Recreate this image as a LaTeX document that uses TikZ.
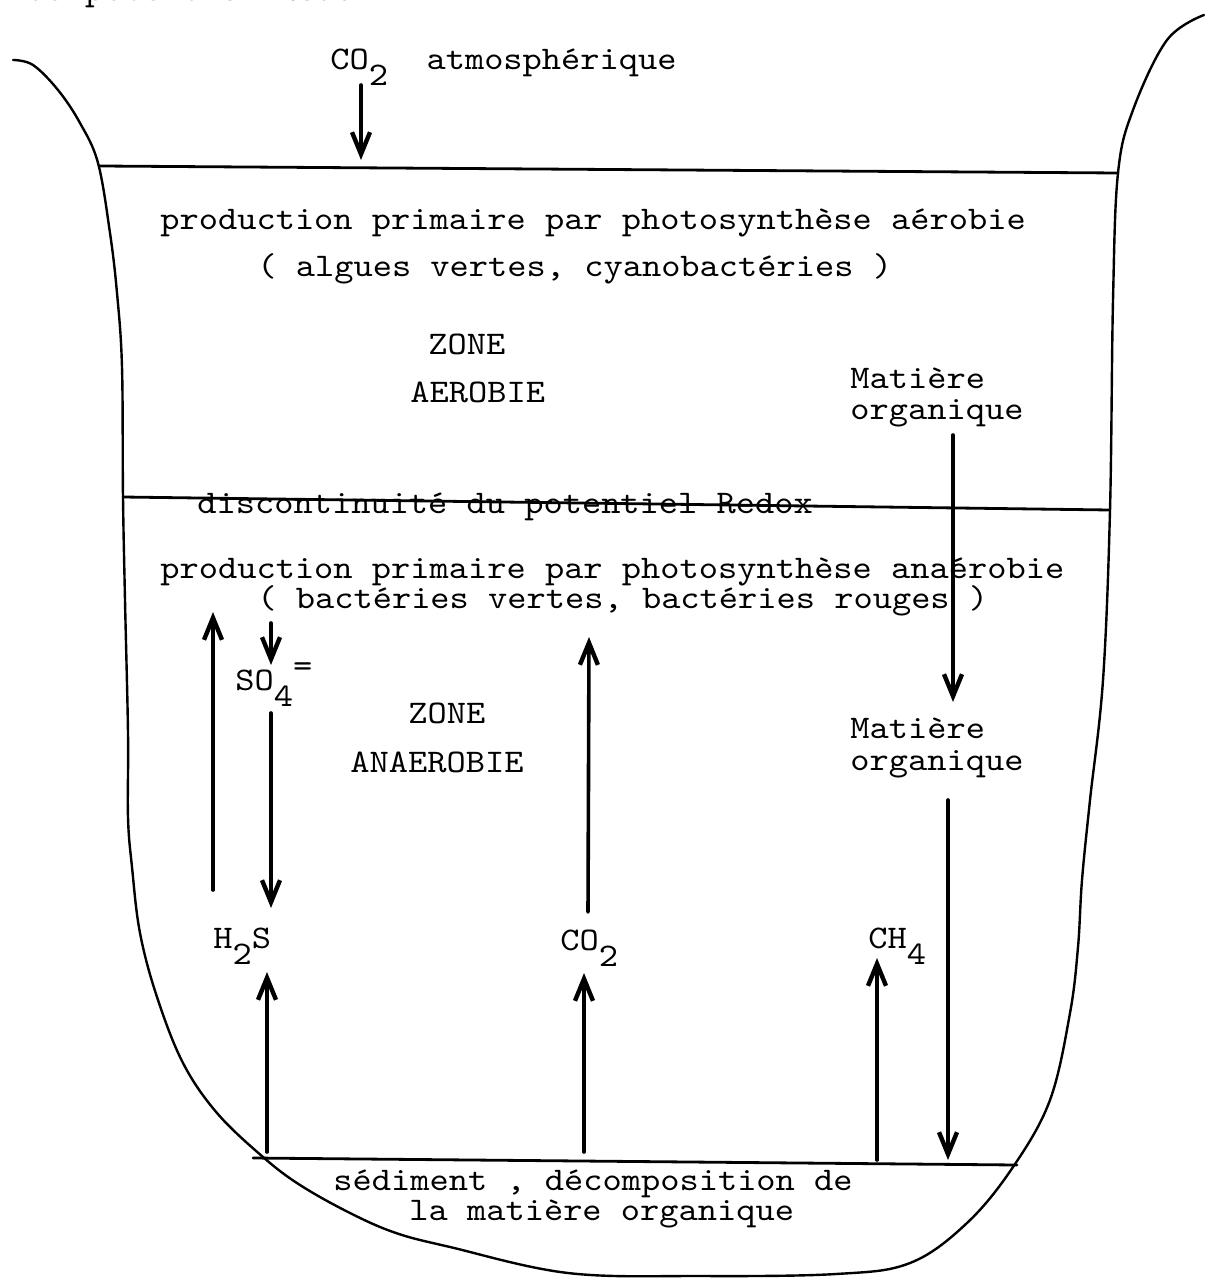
\documentclass[tikz,border=0pt]{standalone}
\usepackage{fontspec}
\usepackage{tikz}
\usetikzlibrary{arrows.meta}
\newfontfamily\typewriter[FakeStretch=1.11]{lmmono10-regular.otf}
\newcommand{\lowered}[1]{\raisebox{-8pt}{#1}}
\newcommand{\raised}[1]{\raisebox{7pt}{#1}}

\begin{document}
\begin{tikzpicture}[x=0.5pt, y=-0.5pt, line cap=round,
	txt/.style={anchor=base west, inner sep=0pt, font=\typewriter\fontsize{16.5}{20}\selectfont},
	wall/.style={line width=1.2pt},
	level/.style={line width=1.4pt},
	flux/.style={line width=1.8pt, -{Straight Barb[length=11pt, width=9pt, line width=2.2pt]}}]
					\useasboundingbox (0,0) rectangle (1204,1278);
					
					% Vessel outline (one hand drawn stroke, open at the top)
					\draw[wall] plot[smooth, tension=0.6] coordinates {
						(13,60) (33,65) (58,90) (80,123) (98,163) (110,233) (117,293) (122,367) (123,497)
						(125,600) (128,733) (128,817) (132,867) (140,933) (157,997) (183,1063) (217,1113)
						(263,1157) (300,1185) (350,1213) (396,1233) (450,1247) (568,1273) (700,1276)
						(836,1274) (910,1263) (967,1223) (1013,1167) (1050,1100) (1070,1013) (1078,947)
						(1082,880) (1090,800) (1103,680) (1110,510) (1113,300) (1118,173) (1133,110)
						(1167,40) (1204,15)
					};
					
					% Levels: surface, redox discontinuity, sediment
					\draw[level] (100,166) -- (1118,173);
					\draw[level] (123,497) -- (1110,510);
					\draw[level] (253,1158) -- (1017,1165);
					
					% Texts of the aerobic zone
					\node[txt] (redoxtop) at (27,1) {du potentiel Redox :};
					\node[txt] (atm) at (330,70) {CO\lowered{2}~~atmosphérique};
					\node[txt] (prodA) at (160,230) {production primaire par photosynthèse aérobie};
					\node[txt] (algues) at (257,277) {( algues vertes, cyanobactéries )};
					\node[txt] (zoneA) at (428,355) {ZONE};
					\node[txt] (aerobie) at (410,402) {AEROBIE};
					\node[txt] (matA) at (850,388) {Matière};
					\node[txt] (orgA) at (850,419) {organique};
					
					% Texts of the anaerobic zone
					\node[txt] (redox) at (197,513) {discontinuité du potentiel Redox};
					\node[txt] (prodB) at (160,578) {production primaire par photosynthèse anaérobie};
					\node[txt] (bact) at (257,608) {( bactéries vertes, bactéries rouges )};
					\node[txt] (so4) at (235,690) {SO\lowered{4}\raised{=}};
					\node[txt] (zoneB) at (408,723) {ZONE};
					\node[txt] (anaerobie) at (350,772) {ANAEROBIE};
					\node[txt] (matB) at (850,738) {Matière};
					\node[txt] (orgB) at (850,770) {organique};
					\node[txt] (h2s) at (213,948) {H\lowered{2}S};
					\node[txt] (co2) at (560,950) {CO\lowered{2}};
					\node[txt] (ch4) at (868,948) {CH\lowered{4}};
					
					% Sediment
					\node[txt] (sedA) at (333,1190) {sédiment , décomposition de};
					\node[txt] (sedB) at (409,1220) {la matière organique};
					
					% Arrow end points
					\coordinate (atmTail) at (361,85);     \coordinate (atmTip) at (361,160);
					\coordinate (orgATail) at (953,435);   \coordinate (orgATip) at (953,702);
					\coordinate (orgBTail) at (948,800);   \coordinate (orgBTip) at (948,1160);
					\coordinate (h2sTop) at (213,890);     \coordinate (prodBTip) at (213,612);
					\coordinate (bactTail) at (271,623);   \coordinate (so4Tip) at (271,665);
					\coordinate (so4Tail) at (271,713);    \coordinate (h2sTip) at (271,908);
					\coordinate (co2Top) at (588,912);     \coordinate (bactTip) at (589,637);
					\coordinate (sedH2s) at (267,1152);    \coordinate (h2sIn) at (267,972);
					\coordinate (sedCo2) at (584,1152);    \coordinate (co2In) at (584,973);
					\coordinate (sedCh4) at (877,1160);    \coordinate (ch4In) at (877,958);
					
					% Fluxes
					\draw[flux] (atmTail) -- (atmTip);
					\draw[flux] (orgATail) -- (orgATip);
					\draw[flux] (orgBTail) -- (orgBTip);
					\draw[flux] (h2sTop) -- (prodBTip);
					\draw[flux] (bactTail) -- (so4Tip);
					\draw[flux] (so4Tail) -- (h2sTip);
					\draw[flux] (co2Top) -- (bactTip);
					\draw[flux] (sedH2s) -- (h2sIn);
					\draw[flux] (sedCo2) -- (co2In);
					\draw[flux] (sedCh4) -- (ch4In);
				\end{tikzpicture}
\end{document}
